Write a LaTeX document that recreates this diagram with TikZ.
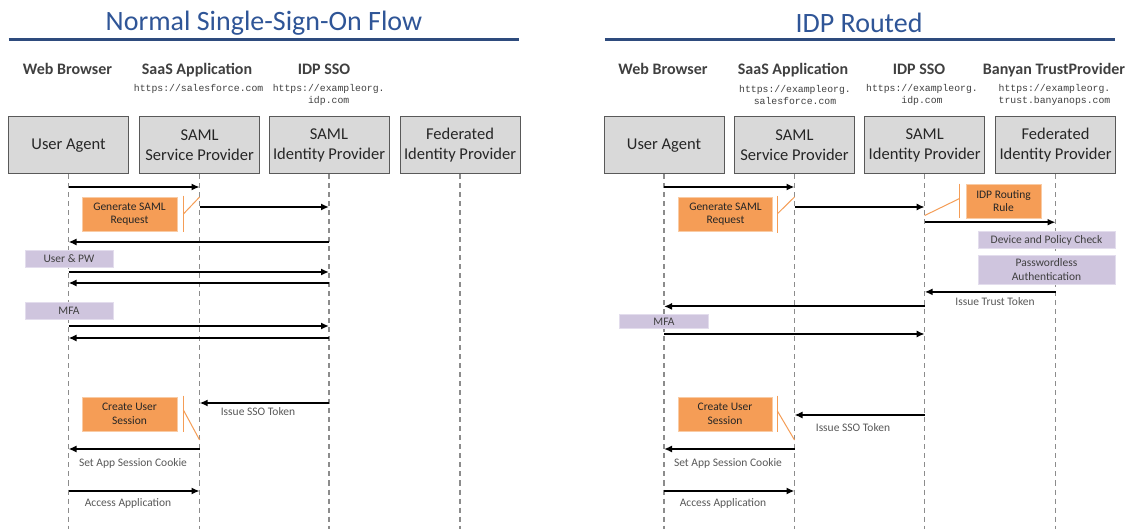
\documentclass[tikz,border=0pt]{standalone}
\usepackage{fontspec}
\setmainfont{Carlito}
\newfontfamily\urlfont{Liberation Mono}
\usetikzlibrary{arrows.meta}
\definecolor{titleblue}{HTML}{2F5597}
\definecolor{lineblue}{HTML}{2E4B7D}
\definecolor{boxfill}{HTML}{D9D9D9}
\definecolor{boxdraw}{HTML}{595959}
\definecolor{hdrgray}{HTML}{404040}
\definecolor{lblgray}{HTML}{595959}
\definecolor{txtdark}{HTML}{262626}
\definecolor{orfill}{HTML}{F59D56}
\definecolor{ordraw}{HTML}{F9CBA4}
\definecolor{purfill}{HTML}{CFC5DE}
\definecolor{purdraw}{HTML}{E3DDED}
\definecolor{lifegray}{HTML}{8C8C8C}
\begin{document}
\begin{tikzpicture}[x=1pt,y=-1pt,
  title/.style={text=titleblue,font=\fontsize{28}{32}\selectfont,inner sep=0},
  rule/.style={draw=lineblue,line width=2.5pt},
  hdr/.style={text=hdrgray,font=\fontsize{16}{19}\selectfont\bfseries,inner sep=0,text height=11pt,text depth=3pt},
  url/.style={text=hdrgray,font=\fontsize{9.8}{12}\selectfont\urlfont,inner sep=0,align=center},
  actor/.style={draw=boxdraw,fill=boxfill,line width=1pt,minimum width=120pt,minimum height=57pt,inner sep=0,align=center,font=\fontsize{16.5}{20}\selectfont,text=txtdark},
  life/.style={draw=lifegray,line width=1.3pt,dash pattern=on 5pt off 4pt},
  msg/.style={draw=black,line width=1.8pt,-{Latex[length=8pt,width=7pt]}},
  note/.style={fill=orfill,draw=ordraw,line width=0.8pt,inner sep=0,align=center,font=\fontsize{11.5}{13.5}\selectfont,text=txtdark},
  tag/.style={fill=purfill,draw=purdraw,line width=0.8pt,inner sep=0,align=center,font=\fontsize{11.5}{13.5}\selectfont,text=hdrgray},
  lbl/.style={text=lblgray,font=\fontsize{11.5}{13.5}\selectfont,inner sep=0},
  leader/.style={draw=orfill,line width=1pt},
]
\useasboundingbox[fill=white] (0,0) rectangle (1128,529);

% ================= LEFT PANEL =================
\node[title] (t1) at (264,23) {Normal Single-Sign-On Flow};
\coordinate (r1a) at (8.5,39.5);
\coordinate (r1b) at (519,39.5);
\draw[rule] (r1a) -- (r1b);

\node[hdr] (h11) at (67.5,71) {Web Browser};
\node[hdr] (h12) at (197,71) {SaaS Application};
\node[hdr] (h13) at (324,71) {IDP SSO};
\node[url] (u12) at (198.6,88.6) {https://salesforce.com};
\node[url] (u13) at (328.7,94.6) {https://exampleorg.\\idp.com};

\node[actor] (ua1) at (68.5,145.5) {User Agent};
\node[actor] (sp1) at (199.6,145.5) {SAML\\Service Provider};
\node[actor] (idp1) at (329,145.5) {SAML\\Identity Provider};
\node[actor] (fed1) at (460,145.5) {Federated\\Identity Provider};

\coordinate (ua1e) at (68.5,529);
\coordinate (sp1e) at (199.6,529);
\coordinate (idp1e) at (329,529);
\coordinate (fed1e) at (460,529);
\draw[life] (ua1.south) -- (ua1e);
\draw[life] (sp1.south) -- (sp1e);
\draw[life] (idp1.south) -- (idp1e);
\draw[life] (fed1.south) -- (fed1e);

\draw[msg] (ua1 |- 0,187) -- (sp1 |- 0,187);
\node[note,minimum width=95pt,minimum height=34pt] (gen1) at (129.5,214) {Generate SAML\\Request};
\draw[leader] ([xshift=6pt,yshift=1pt]gen1.north east) -- ([xshift=6pt,yshift=-1pt]gen1.south east);
\draw[leader] ([xshift=6pt]gen1.east) -- (sp1 |- 0,197);
\draw[msg] (sp1 |- 0,207) -- (idp1 |- 0,207);
\draw[msg] (idp1 |- 0,242) -- (ua1 |- 0,242);
\node[tag,minimum width=88pt,minimum height=17pt] (upw1) at (69,258.5) {User \& PW};
\draw[msg] (ua1 |- 0,272) -- (idp1 |- 0,272);
\draw[msg] (idp1 |- 0,283) -- (ua1 |- 0,283);
\node[tag,minimum width=88pt,minimum height=17pt] (mfa1) at (69,310.5) {MFA};
\draw[msg] (ua1 |- 0,326) -- (idp1 |- 0,326);
\draw[msg] (idp1 |- 0,338) -- (ua1 |- 0,338);

\node[note,minimum width=95pt,minimum height=34pt] (cus1) at (129.5,414) {Create User\\Session};
\draw[leader] ([xshift=6pt,yshift=1pt]cus1.north east) -- ([xshift=6pt,yshift=-1pt]cus1.south east);
\draw[leader] ([xshift=6pt,yshift=4pt]cus1.east) -- (sp1 |- 0,440);
\draw[msg] (idp1 |- 0,403) -- (sp1 |- 0,403);
\node[lbl] (l11) at (258,411.7) {Issue SSO Token};
\draw[msg] (sp1 |- 0,449) -- (ua1 |- 0,449);
\node[lbl] (l12) at (133,463) {Set App Session Cookie};
\draw[msg] (ua1 |- 0,491) -- (sp1 |- 0,491);
\node[lbl] (l13) at (128,503) {Access Application};

% ================= RIGHT PANEL =================
\node[title] (t2) at (859,23) {IDP Routed};
\coordinate (r2a) at (604.8,39.5);
\coordinate (r2b) at (1115,39.5);
\draw[rule] (r2a) -- (r2b);

\node[hdr] (h21) at (663,71) {Web Browser};
\node[hdr] (h22) at (793,71) {SaaS Application};
\node[hdr] (h23) at (919,71) {IDP SSO};
\node[hdr] (h24) at (1054,71) {Banyan TrustProvider};
\node[url] (u22) at (795,94.6) {https://exampleorg.\\salesforce.com};
\node[url] (u23) at (922,94.6) {https://exampleorg.\\idp.com};
\node[url] (u24) at (1054.5,94.6) {https://exampleorg.\\trust.banyanops.com};

\node[actor] (ua2) at (664,145.5) {User Agent};
\node[actor] (sp2) at (794.5,145.5) {SAML\\Service Provider};
\node[actor] (idp2) at (924.7,145.5) {SAML\\Identity Provider};
\node[actor] (fed2) at (1055.5,145.5) {Federated\\Identity Provider};

\coordinate (ua2e) at (664,529);
\coordinate (sp2e) at (794.5,529);
\coordinate (idp2e) at (924.7,529);
\coordinate (fed2e) at (1055.5,529);
\draw[life] (ua2.south) -- (ua2e);
\draw[life] (sp2.south) -- (sp2e);
\draw[life] (idp2.south) -- (idp2e);
\draw[life] (fed2.south) -- (fed2e);

\draw[msg] (ua2 |- 0,187) -- (sp2 |- 0,187);
\node[note,minimum width=94pt,minimum height=34pt] (gen2) at (725.5,214.3) {Generate SAML\\Request};
\draw[leader] ([xshift=5pt,yshift=1pt]gen2.north east) -- ([xshift=5pt,yshift=-1pt]gen2.south east);
\draw[leader] ([xshift=5pt,yshift=1pt]gen2.east) -- (sp2 |- 0,197);
\draw[msg] (sp2 |- 0,207) -- (idp2 |- 0,207);
\node[note,minimum width=75pt,minimum height=34pt] (irr2) at (1003.5,201) {IDP Routing\\Rule};
\draw[leader] ([xshift=-6pt]irr2.north west) -- ([xshift=-6pt]irr2.south west);
\draw[leader] ([xshift=-6pt,yshift=2.5pt]irr2.west) -- (idp2 |- 0,215.5);
\draw[msg] (idp2 |- 0,222.2) -- (fed2 |- 0,222.2);
\node[tag,minimum width=137pt,minimum height=17pt] (dpc2) at (1046.5,240) {Device and Policy Check};
\node[tag,minimum width=137pt,minimum height=29.5pt] (pwl2) at (1046.5,269.8) {Passwordless\\Authentication};
\draw[msg] (fed2 |- 0,291.9) -- (idp2 |- 0,291.9);
\node[lbl] (l21) at (995,302) {Issue Trust Token};
\draw[msg] (idp2 |- 0,306.4) -- (ua2 |- 0,306.4);
\node[tag,minimum width=89pt,minimum height=13.5pt] (mfa2) at (664,321.4) {MFA};
\draw[msg] (ua2 |- 0,334) -- (idp2 |- 0,334);

\node[note,minimum width=94pt,minimum height=34pt] (cus2) at (725,414) {Create User\\Session};
\draw[leader] ([xshift=5pt,yshift=1pt]cus2.north east) -- ([xshift=5pt,yshift=-1pt]cus2.south east);
\draw[leader] ([xshift=5pt,yshift=3pt]cus2.east) -- (sp2 |- 0,440);
\draw[msg] (idp2 |- 0,415) -- (sp2 |- 0,415);
\node[lbl] (l22) at (853,428) {Issue SSO Token};
\draw[msg] (sp2 |- 0,449) -- (ua2 |- 0,449);
\node[lbl] (l23) at (728,463) {Set App Session Cookie};
\draw[msg] (ua2 |- 0,491) -- (sp2 |- 0,491);
\node[lbl] (l24) at (723,503) {Access Application};
\end{tikzpicture}
\end{document}
